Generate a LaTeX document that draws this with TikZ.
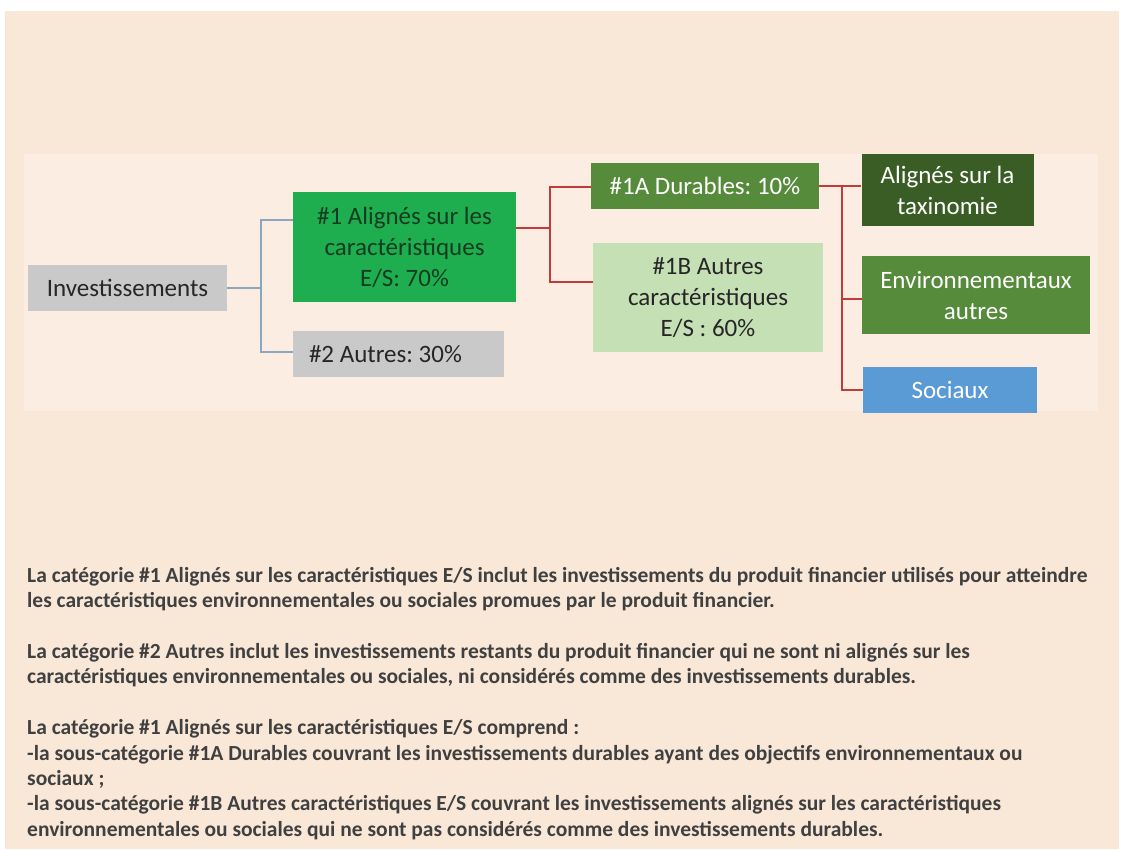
\documentclass[tikz,border=0pt]{standalone}
\usepackage{fontspec}
\setmainfont{Carlito}
\usepackage{tikz}

\definecolor{beige}{HTML}{F9E8D8}
\definecolor{panneau}{HTML}{FBEDE2}
\definecolor{gris}{HTML}{C9C9C9}
\definecolor{vertvif}{HTML}{1EAD4F}
\definecolor{vertmoyen}{HTML}{558B3A}
\definecolor{vertclair}{HTML}{C5E0B4}
\definecolor{vertfonce}{HTML}{3A5D25}
\definecolor{bleuciel}{HTML}{5B9BD5}
\definecolor{traitbleu}{HTML}{8DA6C0}
\definecolor{traitrouge}{HTML}{C23B3B}
\definecolor{gristexte}{HTML}{404040}
\definecolor{encre}{HTML}{262626}
\definecolor{encreverte}{HTML}{123D20}

\begin{document}
\frenchspacing
\begin{tikzpicture}[x=1pt, y=-1pt,
    boite/.style={inner sep=0pt, align=center, font=\fontsize{25}{31}\selectfont},
    lienbleu/.style={traitbleu, line width=1.5pt},
    lienrouge/.style={traitrouge, line width=1.5pt}]
    \useasboundingbox (0,0) rectangle (1123,849);
    \fill[white] (0,0) rectangle (1123,849);
    \fill[beige] (5,11) rectangle (1119,849);
    \fill[panneau] (24,154) rectangle (1098,411);

    % boites
    \node[boite, fill=gris, text=encre, minimum width=199, minimum height=46] (inv) at (127.5,288) {Investissements};
    \node[boite, fill=vertvif, text=encreverte, minimum width=223, minimum height=110] (a1) at (404.5,247) {\#1 Alignés sur les\\caractéristiques\\E/S: 70\%};
    \node[boite, fill=gris, text=encre, minimum width=211, minimum height=46] (a2) at (398.5,354) {\makebox[179pt][l]{\#2 Autres: 30\%}};
    \node[boite, fill=vertmoyen, text=white, minimum width=228, minimum height=46] (d1a) at (705,186) {\#1A Durables: 10\%};
    \node[boite, fill=vertclair, text=encre, minimum width=230, minimum height=109] (d1b) at (708,297.5) {\#1B Autres\\caractéristiques\\E/S : 60\%};
    \node[boite, fill=vertfonce, text=white, minimum width=172, minimum height=72] (tax) at (947.5,190) {Alignés sur la\\taxinomie};
    \node[boite, fill=vertmoyen, text=white, minimum width=228, minimum height=78] (env) at (976,295) {Environnementaux\\autres};
    \node[boite, fill=bleuciel, text=white, minimum width=174, minimum height=46] (soc) at (950,390) {Sociaux};

    % liens
    \coordinate (b1) at (261,220);
    \coordinate (b2) at (261,352);
    \draw[lienbleu] (inv.east) -- (inv.east -| b1);
    \draw[lienbleu] (a1.west |- b1) -- (b1) -- (b2) -- (a2.west |- b2);
    \coordinate (r0) at (550,228);
    \coordinate (r1) at (550,187);
    \coordinate (r2) at (550,282);
    \draw[lienrouge] (a1.east |- r0) -- (r0);
    \draw[lienrouge] (d1a.west |- r1) -- (r1) -- (r2) -- (d1b.west |- r2);
    \coordinate (s1) at (842,186);
    \coordinate (s2) at (842,299);
    \coordinate (s3) at (842,390);
    \draw[lienrouge] (d1a.east) -- (s1) -- (tax.west |- s1);
    \draw[lienrouge] (s1) -- (s3) -- (soc.west |- s3);
    \draw[lienrouge] (s2) -- (env.west |- s2);

    % legende
    \node[anchor=north west, inner sep=0pt, align=left, text=gristexte, font=\bfseries\fontsize{21.5}{25.4}\selectfont] (notes) at (27,567)
    {La catégorie \#1 Alignés sur les caractéristiques E/S inclut les investissements du produit financier utilisés pour atteindre\\
    les caractéristiques environnementales ou sociales promues par le produit financier.\\[25.4pt]
    La catégorie \#2 Autres inclut les investissements restants du produit financier qui ne sont ni alignés sur les\\
    caractéristiques environnementales ou sociales, ni considérés comme des investissements durables.\\[25.4pt]
    La catégorie \#1 Alignés sur les caractéristiques E/S comprend :\\
    -la sous-catégorie \#1A Durables couvrant les investissements durables ayant des objectifs environnementaux ou\\
    sociaux ;\\
    -la sous-catégorie \#1B Autres caractéristiques E/S couvrant les investissements alignés sur les caractéristiques\\
    environnementales ou sociales qui ne sont pas considérés comme des investissements durables.};
\end{tikzpicture}
\end{document}
